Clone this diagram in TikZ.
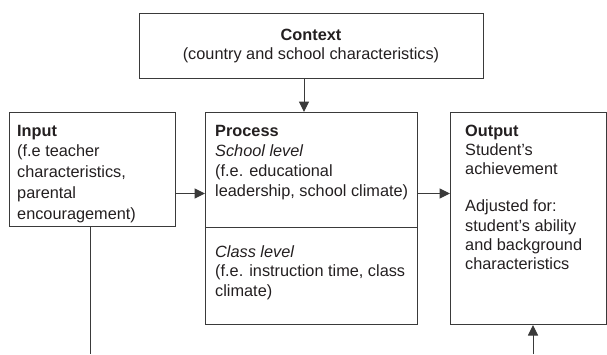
\documentclass[tikz,border=0pt]{standalone}
\usepackage{fontspec}
\setmainfont{Liberation Sans}
\usetikzlibrary{arrows.meta}
\definecolor{ink}{HTML}{231F20}
\definecolor{rulecol}{HTML}{3A3A3A}
% a top-aligned text block: width, line spacing, content
\newcommand{\blocktext}[3]{\parbox[t]{#1}{\raggedright\fontsize{16.3}{#2}\selectfont #3}}
\begin{document}
\begin{tikzpicture}[x=1pt,y=-1pt,
  box/.style={draw=rulecol, line width=1pt, inner sep=0pt, anchor=north west},
  txt/.style={anchor=base west, inner sep=0pt, text=ink},
  link/.style={draw=rulecol, line width=1pt},
  arrowlink/.style={link, -{Triangle[length=10.5pt,width=10pt]}}]
\useasboundingbox (0,0) rectangle (607,354);

% boxes
\node[box, minimum width=344pt, minimum height=65pt] (ctx) at (139,13) {};
\node[box, minimum width=166pt, minimum height=114pt] (inp) at (9,112) {};
\node[box, minimum width=212pt, minimum height=212pt] (proc) at (205,112) {};
\node[box, minimum width=156pt, minimum height=212pt] (out) at (450,112) {};
\draw[link] (proc.west |- inp.south) -- (proc.east |- inp.south);

% texts
\node[anchor=base, inner sep=0pt, text=ink] (ctxtext) at (311,40.5)
  {\parbox[t]{330pt}{\centering\fontsize{16.3}{19}\selectfont
   \textbf{Context}\\(country and school characteristics)}};
\node[txt] (inptext) at (17,136) {\blocktext{155pt}{20.75}{%
  \textbf{Input}\\(f.e teacher\\characteristics,\\parental\\encouragement)}};
\node[txt] (schooltext) at (215,136) {\blocktext{200pt}{20}{%
  \textbf{Process}\\\textit{School level}\\(f.e. educational\\leadership, school climate)}};
\node[txt] (classtext) at (215,257) {\blocktext{200pt}{19.5}{%
  \textit{Class level}\\(f.e. instruction time, class\\climate)}};
\node[txt] (outtext) at (465,136) {\blocktext{140pt}{19.4}{%
  \textbf{Output}\\Student’s\\achievement\\[17.5pt]Adjusted for:\\student’s ability\\and background\\characteristics}};

% connectors
\coordinate (cx) at (304,0);
\coordinate (ay) at (0,193.5);
\coordinate (inbot) at (90,354);
\coordinate (outbot) at (533,354);
\draw[arrowlink] (ctx.south -| cx) -- (proc.north -| cx);
\draw[arrowlink] (inp.east |- ay) -- (proc.west |- ay);
\draw[arrowlink] (proc.east |- ay) -- (out.west |- ay);
\draw[link] (inp.south -| inbot) -- (inbot);
\draw[arrowlink] (outbot) -- (out.south -| outbot);
\end{tikzpicture}
\end{document}
